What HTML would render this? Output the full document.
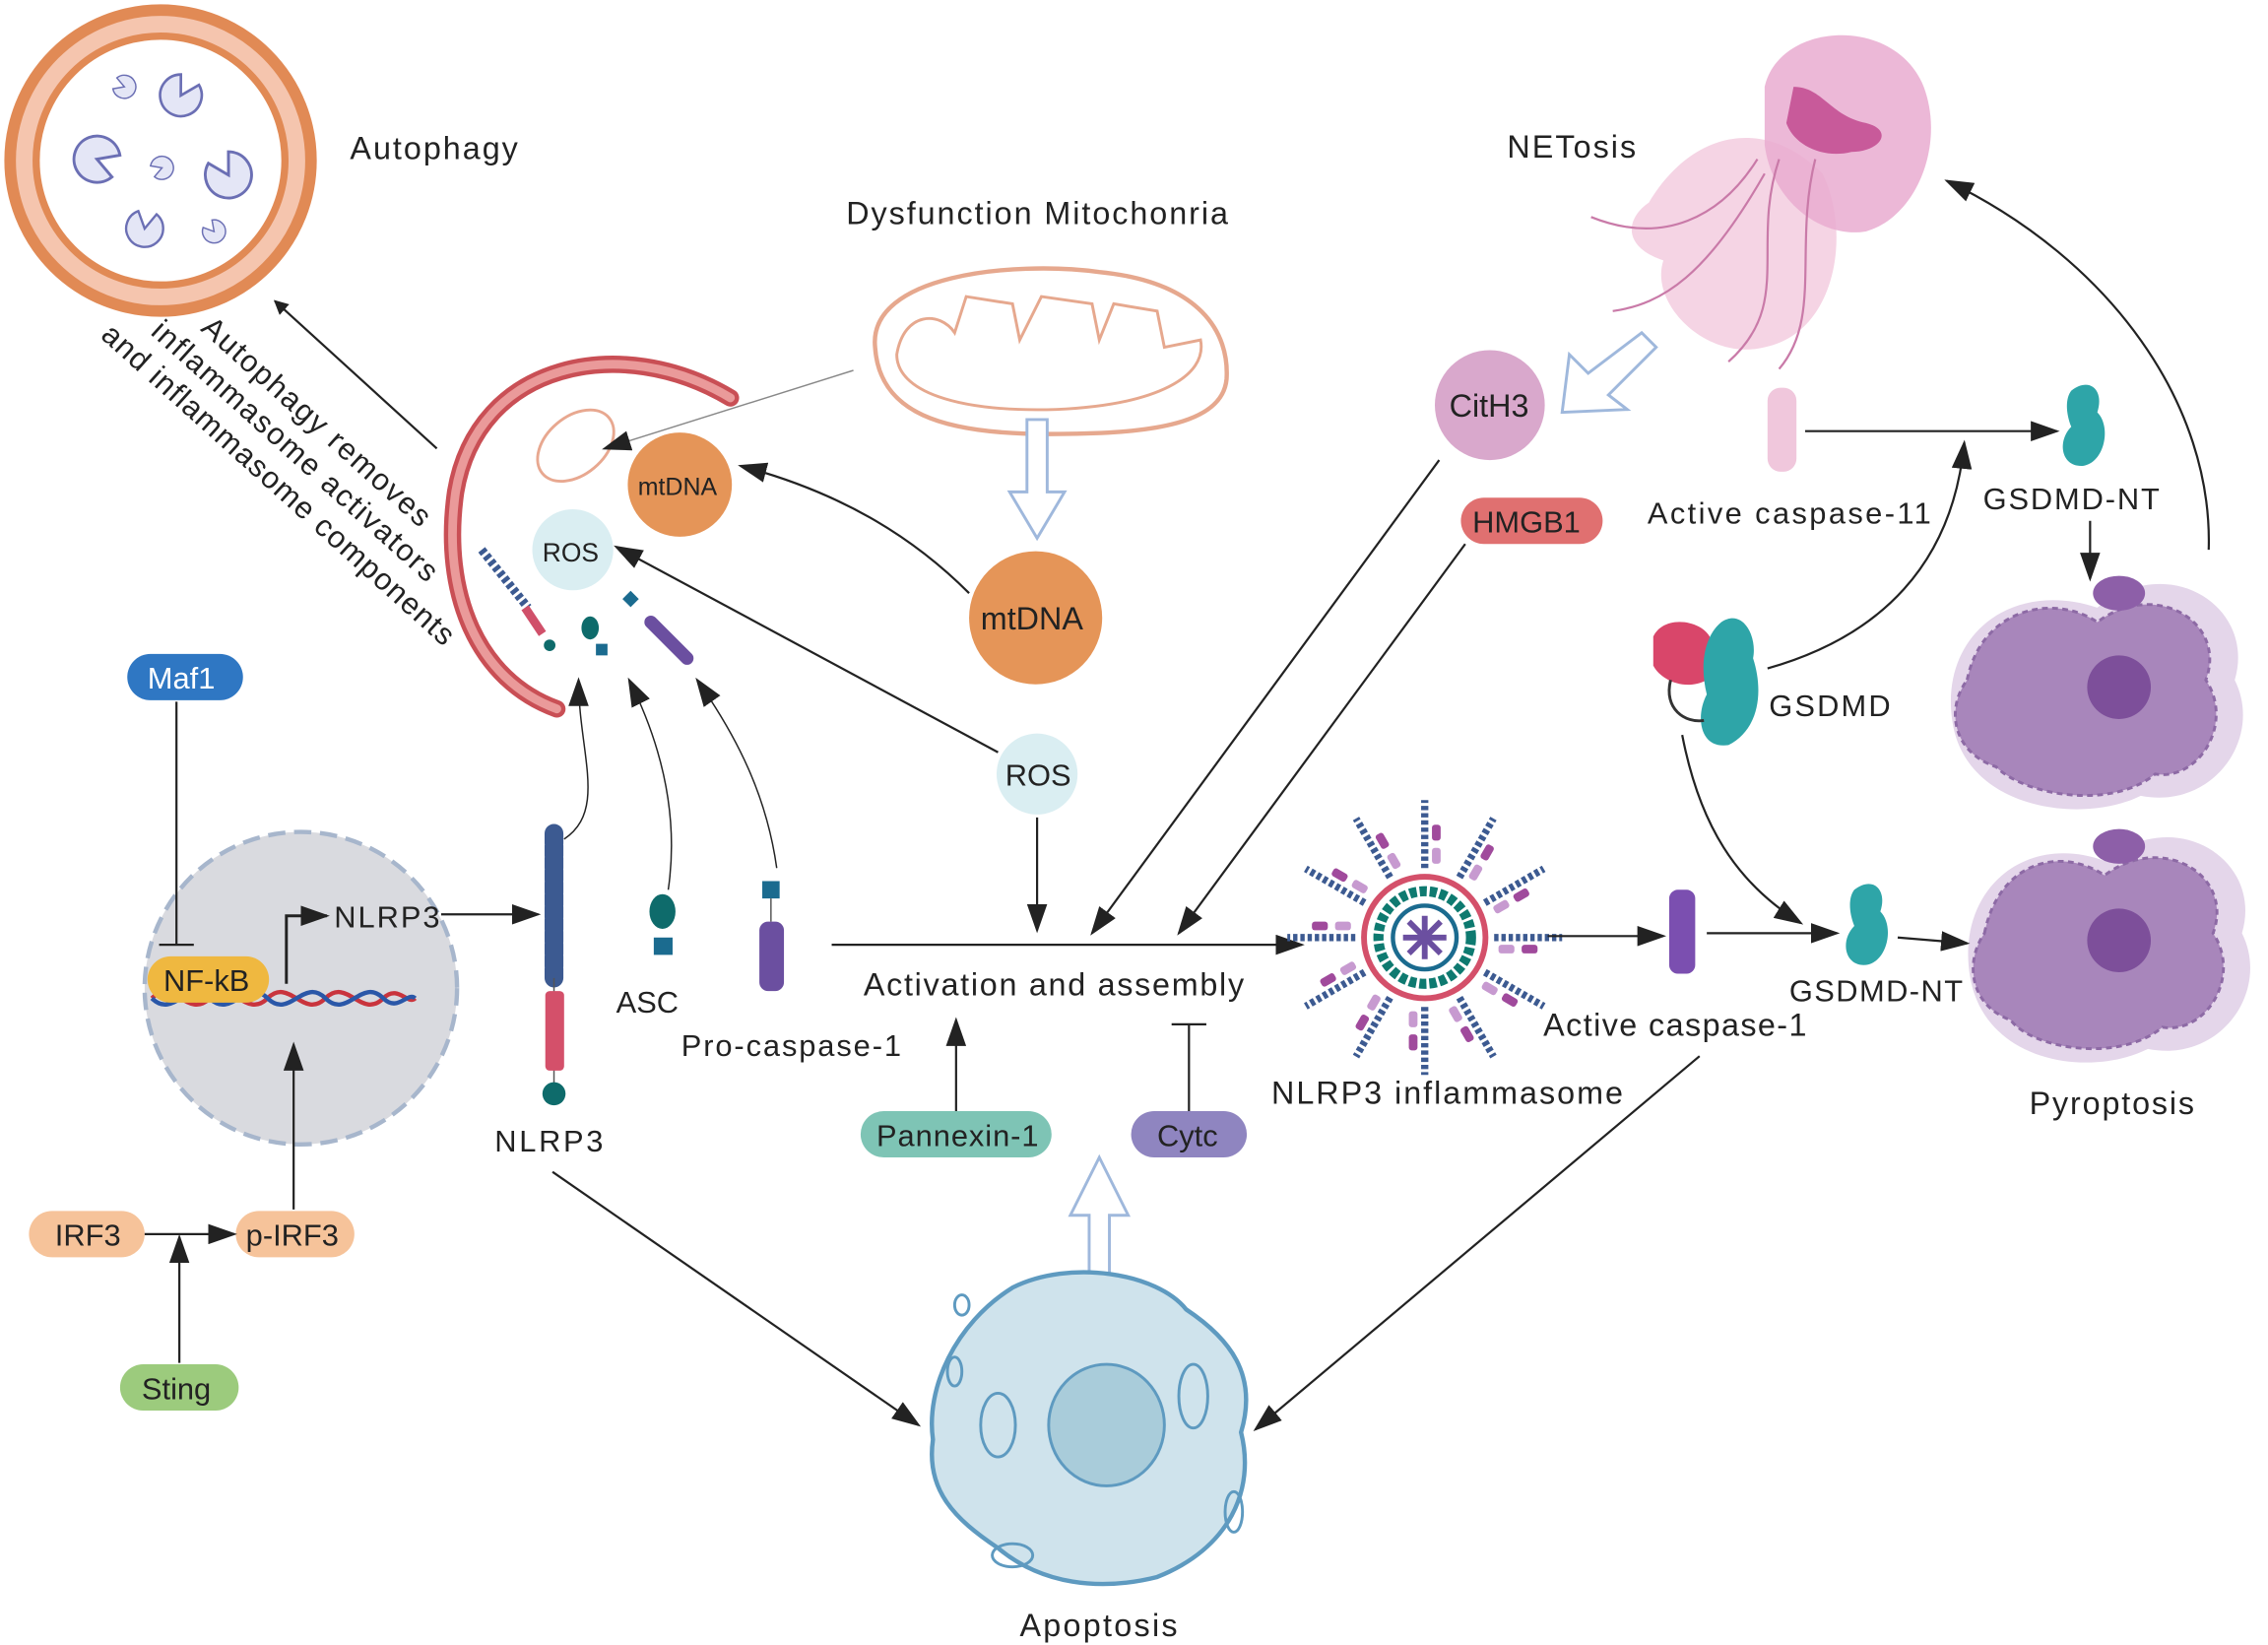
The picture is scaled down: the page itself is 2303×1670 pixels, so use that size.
<!DOCTYPE html>
<html><head><meta charset="utf-8"><style>
html,body{margin:0;padding:0;background:#fff;}
svg{display:block;}
text{font-family:"Liberation Sans",sans-serif;fill:#222;}
</style></head><body>
<svg width="2303" height="1670" viewBox="0 0 1568 1137" preserveAspectRatio="none" xmlns="http://www.w3.org/2000/svg">
<defs>
<marker id="ah" markerWidth="10" markerHeight="10" refX="9" refY="5" orient="auto" markerUnits="userSpaceOnUse"><path d="M0,0 L20,5 L0,10z" transform="scale(0.5,1)" fill="#222"/></marker>
<marker id="ab" markerWidth="20" markerHeight="14" refX="18" refY="7" orient="auto" markerUnits="userSpaceOnUse"><path d="M0,0 L20,7 L0,14z" fill="#222"/></marker>
<g id="spoke">
<line x1="0" y1="-48" x2="0" y2="-95" stroke="#3c5a91" stroke-width="5" stroke-dasharray="3,2"/>
<rect x="5" y="-62" width="6" height="11" rx="2" fill="#c79ad0"/>
<rect x="5" y="-78" width="6" height="11" rx="2" fill="#a04a9c"/>
</g>
<g id="pac"><path d="M0,0 L14,-8 A16,16 0 1,0 14,8 Z" fill="#e4e6f6" stroke="#6b6fb4" stroke-width="2"/></g>
</defs>

<!-- pyroptosis cells (drawn first so they sit behind) -->
<path d="M1350,500 C1340,440 1390,400 1450,420 C1500,380 1560,420 1545,470 C1565,510 1530,560 1480,550 C1440,570 1360,560 1350,500Z" fill="#e4d6ea"/>
<path d="M1362,675 C1352,615 1400,575 1455,595 C1505,555 1565,595 1550,645 C1570,685 1535,735 1485,725 C1445,745 1372,735 1362,675Z" fill="#e4d6ea"/>
<g fill="#a886bb" stroke="#8d6aa5" stroke-width="2" stroke-dasharray="4,3">
<path d="M1360,470 C1370,420 1420,410 1450,430 C1490,400 1540,430 1525,470 C1545,500 1520,540 1490,535 C1460,560 1400,550 1380,530 C1350,520 1345,490 1360,470Z"/>
<path d="M1372,645 C1382,595 1425,585 1455,605 C1495,575 1545,605 1530,645 C1550,675 1525,715 1495,710 C1465,735 1405,725 1390,705 C1362,695 1358,665 1372,645Z"/>
</g>
<circle cx="1465" cy="475" r="22" fill="#7d4f9a"/>
<circle cx="1465" cy="650" r="22" fill="#7d4f9a"/>
<ellipse cx="1465" cy="410" rx="18" ry="12" fill="#8d5fa8"/>
<ellipse cx="1465" cy="585" rx="18" ry="12" fill="#8d5fa8"/>
<text x="1403" y="770" font-size="22" textLength="114">Pyroptosis</text>

<!-- Autophagy -->
<circle cx="111" cy="111" r="104" fill="#f5c5ae" stroke="#e18a55" stroke-width="8"/>
<circle cx="111" cy="111" r="86" fill="#fff" stroke="#e18a55" stroke-width="5"/>
<use href="#pac" transform="translate(67,110) rotate(20)"/>
<use href="#pac" transform="translate(125,66) rotate(-60) scale(0.9)"/>
<use href="#pac" transform="translate(158,121) rotate(-120)"/>
<use href="#pac" transform="translate(100,158) rotate(-80) scale(0.8)"/>
<use href="#pac" transform="translate(86,60) rotate(200) scale(0.5)"/>
<use href="#pac" transform="translate(112,116) rotate(160) scale(0.5)"/>
<use href="#pac" transform="translate(148,160) rotate(230) scale(0.5)"/>
<text x="242" y="110" font-size="22" textLength="116">Autophagy</text>
<g transform="translate(138,228) rotate(42)" font-size="21">
<text x="0" y="0" textLength="205">Autophagy removes</text>
<text x="-24" y="25" textLength="258">inflammasome activators</text>
<text x="-48" y="50" textLength="320">and inflammasome components</text>
</g>
<line x1="302" y1="310" x2="190" y2="208" stroke="#222" stroke-width="1.5" marker-end="url(#ah)"/>

<!-- phagophore -->
<path d="M505,275 C430,230 330,250 315,340 C305,410 330,470 385,490" fill="none" stroke="#c94f55" stroke-width="12" stroke-linecap="round"/>
<path d="M505,275 C430,230 330,250 315,340 C305,410 330,470 385,490" fill="none" stroke="#ea9a9a" stroke-width="6" stroke-linecap="round"/>
<ellipse cx="398" cy="308" rx="30" ry="20" transform="rotate(-40 398 308)" fill="#fff" stroke="#e8a890" stroke-width="2"/>
<circle cx="470" cy="335" r="36" fill="#e59558"/>
<text x="441" y="342" font-size="17">mtDNA</text>
<circle cx="396" cy="380" r="28" fill="#daeef2"/>
<text x="375" y="388" font-size="18">ROS</text>
<line x1="333" y1="380" x2="365" y2="420" stroke="#3c5a91" stroke-width="6" stroke-dasharray="3,2"/>
<line x1="363" y1="420" x2="375" y2="438" stroke="#d0506a" stroke-width="6"/>
<circle cx="380" cy="446" r="4" fill="#0e6b6b"/>
<ellipse cx="408" cy="434" rx="6" ry="8" fill="#0e6b6b"/>
<rect x="412" y="445" width="8" height="8" fill="#1b6b8f"/>
<rect x="432" y="410" width="8" height="8" fill="#1b6b8f" transform="rotate(45 436 414)"/>
<line x1="450" y1="430" x2="475" y2="455" stroke="#6b4fa0" stroke-width="9" stroke-linecap="round"/>

<!-- big mitochondria -->
<path d="M605,240 C600,190 700,180 760,188 C830,195 850,230 848,262 C845,295 790,300 725,300 C650,300 608,285 605,240Z" fill="#fff" stroke="#e6a88e" stroke-width="3"/>
<path d="M620,245 C625,215 650,215 660,230 L668,205 L700,210 L705,235 L720,205 L755,210 L760,235 L770,210 L800,215 L805,240 L830,235 C835,260 800,280 730,283 C660,285 620,270 620,245Z" fill="none" stroke="#e6a88e" stroke-width="2"/>
<text x="585" y="155" font-size="22" textLength="264">Dysfunction Mitochonria</text>
<line x1="590" y1="256" x2="418" y2="310" stroke="#888" stroke-width="1" marker-end="url(#ab)"/>
<path d="M710,290 L724,290 L724,340 L736,340 L717,372 L698,340 L710,340Z" fill="#fff" stroke="#9fb8dc" stroke-width="2"/>
<circle cx="716" cy="427" r="46" fill="#e59558"/>
<text x="678" y="435" font-size="22">mtDNA</text>
<path d="M670,410 C630,370 580,340 512,322" fill="none" stroke="#222" stroke-width="1.5" marker-end="url(#ab)"/>
<circle cx="717" cy="535" r="28" fill="#daeef2"/>
<text x="695" y="543" font-size="21">ROS</text>
<line x1="690" y1="520" x2="426" y2="378" stroke="#222" stroke-width="1.5" marker-end="url(#ab)"/>
<line x1="717" y1="565" x2="717" y2="643" stroke="#222" stroke-width="1.5" marker-end="url(#ab)"/>

<!-- activation -->
<text x="597" y="688" font-size="22" textLength="263">Activation and assembly</text>
<line x1="575" y1="653" x2="900" y2="653" stroke="#222" stroke-width="1.5" marker-end="url(#ab)"/>
<line x1="661" y1="768" x2="661" y2="705" stroke="#222" stroke-width="1.5" marker-end="url(#ab)"/>
<rect x="595" y="768" width="132" height="32" rx="16" fill="#7ec4b5"/>
<text x="606" y="792" font-size="21" textLength="112">Pannexin-1</text>
<line x1="822" y1="768" x2="822" y2="708" stroke="#222" stroke-width="1.5"/>
<line x1="810" y1="708" x2="834" y2="708" stroke="#222" stroke-width="1.5"/>
<rect x="782" y="768" width="80" height="32" rx="16" fill="#8f85c0"/>
<text x="800" y="792" font-size="21">Cytc</text>
<path d="M753,880 L753,840 L740,840 L760,800 L780,840 L767,840 L767,880Z" fill="#fff" stroke="#9fb8dc" stroke-width="2"/>

<!-- apoptosis -->
<path d="M700,890 C740,870 800,880 820,905 C850,925 870,950 858,990 C868,1030 850,1070 800,1090 C760,1100 720,1095 690,1070 C660,1050 640,1030 645,995 C640,960 660,915 700,890Z" fill="#cfe3ec" stroke="#5e9ac0" stroke-width="3"/>
<ellipse cx="765" cy="985" rx="40" ry="42" fill="#a9ccda" stroke="#5e9ac0" stroke-width="2"/>
<ellipse cx="690" cy="985" rx="12" ry="22" fill="none" stroke="#5e9ac0" stroke-width="2"/>
<ellipse cx="825" cy="965" rx="10" ry="22" fill="none" stroke="#5e9ac0" stroke-width="2"/>
<ellipse cx="660" cy="948" rx="5" ry="10" fill="none" stroke="#5e9ac0" stroke-width="2"/>
<ellipse cx="853" cy="1045" rx="6" ry="14" fill="none" stroke="#5e9ac0" stroke-width="2"/>
<ellipse cx="700" cy="1075" rx="14" ry="8" fill="none" stroke="#5e9ac0" stroke-width="2"/>
<ellipse cx="665" cy="902" rx="5" ry="7" fill="none" stroke="#5e9ac0" stroke-width="2"/>
<text x="705" y="1131" font-size="22" textLength="109">Apoptosis</text>
<line x1="382" y1="810" x2="635" y2="985" stroke="#222" stroke-width="1.5" marker-end="url(#ab)"/>
<line x1="1175" y1="730" x2="868" y2="988" stroke="#222" stroke-width="1.5" marker-end="url(#ab)"/>

<!-- Maf1 & nucleus -->
<rect x="88" y="452" width="80" height="32" rx="16" fill="#2f77c3"/>
<text x="102" y="476" font-size="21" style="fill:#fff">Maf1</text>
<circle cx="208" cy="683" r="108" fill="#d9dadf" stroke="#a7b6cc" stroke-width="3" stroke-dasharray="12,6"/>
<line x1="122" y1="485" x2="122" y2="653" stroke="#222" stroke-width="1.5"/>
<line x1="110" y1="653" x2="134" y2="653" stroke="#222" stroke-width="1.5"/>
<path d="M105,690 C120,675 130,705 145,690 C160,675 170,705 185,690 C200,675 210,705 225,690 C240,675 250,705 265,690 C275,680 282,695 287,690" fill="none" stroke="#c9343d" stroke-width="3"/>
<path d="M105,690 C120,705 130,675 145,690 C160,705 170,675 185,690 C200,705 210,675 225,690 C240,705 250,675 265,690 C275,700 282,685 287,690" fill="none" stroke="#2a57a8" stroke-width="3"/>
<rect x="102" y="661" width="84" height="32" rx="16" fill="#efb840"/>
<text x="113" y="685" font-size="21">NF-kB</text>
<polyline points="198,680 198,633 226,633" fill="none" stroke="#222" stroke-width="2" marker-end="url(#ab)"/>
<text x="231" y="641" font-size="21" textLength="73">NLRP3</text>
<line x1="305" y1="632" x2="372" y2="632" stroke="#222" stroke-width="1.5" marker-end="url(#ab)"/>
<line x1="203" y1="836" x2="203" y2="722" stroke="#222" stroke-width="1.5" marker-end="url(#ab)"/>
<rect x="20" y="837" width="80" height="32" rx="16" fill="#f6c39a"/>
<text x="38" y="861" font-size="21">IRF3</text>
<rect x="163" y="837" width="82" height="32" rx="16" fill="#f6c39a"/>
<text x="170" y="861" font-size="21">p-IRF3</text>
<line x1="100" y1="853" x2="162" y2="853" stroke="#222" stroke-width="1.5" marker-end="url(#ab)"/>
<line x1="124" y1="942" x2="124" y2="855" stroke="#222" stroke-width="1.5" marker-end="url(#ab)"/>
<rect x="83" y="943" width="82" height="32" rx="16" fill="#9ccb7d"/>
<text x="98" y="967" font-size="21">Sting</text>

<!-- NLRP3 chain -->
<line x1="383" y1="576" x2="383" y2="676" stroke="#3c5a91" stroke-width="13" stroke-dasharray="7,1.5" stroke-linecap="round"/>
<line x1="383" y1="676" x2="383" y2="750" stroke="#555" stroke-width="1"/>
<rect x="377" y="685" width="13" height="55" rx="3" fill="#d4506a"/>
<circle cx="383" cy="756" r="8" fill="#0e6b6b"/>
<text x="342" y="796" font-size="21" textLength="75">NLRP3</text>
<path d="M390,580 C420,560 400,520 400,470" fill="none" stroke="#222" stroke-width="1" marker-end="url(#ab)"/>
<ellipse cx="458" cy="630" rx="9" ry="12" fill="#0e6b6b"/>
<rect x="452" y="648" width="13" height="12" fill="#1b6b8f"/>
<text x="426" y="700" font-size="21">ASC</text>
<path d="M462,615 C470,560 455,510 435,470" fill="none" stroke="#222" stroke-width="1" marker-end="url(#ab)"/>
<rect x="527" y="609" width="12" height="12" fill="#1b6b8f"/>
<rect x="525" y="637" width="17" height="48" rx="6" fill="#6b4fa0"/>
<line x1="533" y1="621" x2="533" y2="637" stroke="#555"/>
<text x="471" y="730" font-size="21" textLength="152">Pro-caspase-1</text>
<path d="M537,600 C530,550 510,510 482,470" fill="none" stroke="#222" stroke-width="1" marker-end="url(#ab)"/>

<!-- inflammasome -->
<g transform="translate(985,648)">
<use href="#spoke" transform="rotate(0)"/><use href="#spoke" transform="rotate(30)"/><use href="#spoke" transform="rotate(60)"/><use href="#spoke" transform="rotate(90)"/><use href="#spoke" transform="rotate(120)"/><use href="#spoke" transform="rotate(150)"/><use href="#spoke" transform="rotate(180)"/><use href="#spoke" transform="rotate(210)"/><use href="#spoke" transform="rotate(240)"/><use href="#spoke" transform="rotate(270)"/><use href="#spoke" transform="rotate(300)"/><use href="#spoke" transform="rotate(330)"/>
<circle r="42" fill="none" stroke="#d4506a" stroke-width="4"/>
<circle r="32" fill="none" stroke="#0e7a70" stroke-width="7" stroke-dasharray="5,2"/>
<circle r="22" fill="none" stroke="#1b6b8f" stroke-width="3"/>
<g stroke="#6b4fa0" stroke-width="4"><line x1="-15" y1="0" x2="15" y2="0"/><line x1="0" y1="-15" x2="0" y2="15"/><line x1="-11" y1="-11" x2="11" y2="11"/><line x1="-11" y1="11" x2="11" y2="-11"/></g>
</g>
<text x="879" y="763" font-size="22" textLength="243">NLRP3 inflammasome</text>
<line x1="1070" y1="647" x2="1150" y2="647" stroke="#222" stroke-width="1.5" marker-end="url(#ab)"/>
<rect x="1154" y="615" width="18" height="58" rx="6" fill="#7b4fb0"/>
<text x="1067" y="716" font-size="22" textLength="182">Active caspase-1</text>
<line x1="1180" y1="645" x2="1270" y2="645" stroke="#222" stroke-width="1.5" marker-end="url(#ab)"/>
<path d="M1282,615 C1295,605 1305,615 1300,630 C1310,640 1305,665 1290,667 C1275,668 1272,650 1282,640 C1278,630 1278,620 1282,615Z" fill="#2ea5a8"/>
<text x="1237" y="692" font-size="21" textLength="120">GSDMD-NT</text>
<line x1="1312" y1="648" x2="1360" y2="652" stroke="#222" stroke-width="1.5" marker-end="url(#ab)"/>

<!-- NETosis -->
<g fill="#f2c6dc" opacity="0.75">
<path d="M1140,140 C1170,90 1220,80 1260,120 C1280,160 1270,230 1220,240 C1180,250 1140,210 1150,180 C1120,170 1125,150 1140,140Z"/>
<path d="M1170,170 C1200,140 1250,150 1245,200 C1240,240 1200,250 1185,220Z"/>
</g>
<path d="M1220,60 C1230,15 1310,10 1330,60 C1345,100 1325,150 1290,160 C1260,165 1225,140 1220,100Z" fill="#e9acd0" opacity="0.85"/>
<g stroke="#c97aa8" stroke-width="1.5" fill="none">
<path d="M1230,110 C1210,170 1240,210 1195,250"/><path d="M1255,110 C1240,170 1260,220 1230,255"/><path d="M1215,110 C1190,150 1150,170 1100,150"/><path d="M1220,120 C1180,190 1150,210 1115,215"/>
</g>
<path d="M1240,60 C1260,60 1265,80 1290,85 C1310,90 1300,105 1280,105 C1260,110 1240,100 1235,85Z" fill="#c85a9a"/>
<text x="1042" y="109" font-size="22" textLength="89">NETosis</text>
<circle cx="1030" cy="280" r="38" fill="#d9a8cc"/>
<text x="1002" y="288" font-size="22">CitH3</text>
<path d="M1135,230 L1145,240 L1112,273 L1125,283 L1080,285 L1085,245 L1098,258Z" fill="#fff" stroke="#9fb8dc" stroke-width="2"/>
<rect x="1010" y="344" width="98" height="32" rx="16" fill="#e07070"/>
<text x="1018" y="368" font-size="21">HMGB1</text>
<line x1="995" y1="318" x2="755" y2="645" stroke="#222" stroke-width="1.5" marker-end="url(#ab)"/>
<line x1="1013" y1="376" x2="815" y2="645" stroke="#222" stroke-width="1.5" marker-end="url(#ab)"/>
<rect x="1222" y="268" width="20" height="58" rx="9" fill="#f0c7dc"/>
<text x="1139" y="362" font-size="21" textLength="196">Active caspase-11</text>
<line x1="1248" y1="298" x2="1422" y2="298" stroke="#222" stroke-width="1.5" marker-end="url(#ab)"/>
<path d="M1432,270 C1445,260 1455,270 1450,285 C1460,295 1455,320 1440,322 C1425,323 1422,305 1432,295 C1428,285 1428,275 1432,270Z" fill="#2ea5a8"/>
<text x="1371" y="352" font-size="21" textLength="122">GSDMD-NT</text>
<line x1="1445" y1="360" x2="1445" y2="400" stroke="#222" stroke-width="1.5" marker-end="url(#ab)"/>
<path d="M1143,440 C1150,425 1175,428 1182,440 L1180,470 C1165,478 1148,470 1143,460Z" fill="#d9466a"/>
<path d="M1190,430 C1205,420 1215,440 1212,455 C1220,480 1215,505 1195,515 C1175,518 1172,495 1180,480 C1175,460 1178,440 1190,430Z" fill="#2ea5a8"/>
<path d="M1155,470 C1150,490 1165,500 1178,498" fill="none" stroke="#333" stroke-width="2"/>
<text x="1223" y="495" font-size="21" textLength="84">GSDMD</text>
<path d="M1222,462 C1300,440 1350,390 1358,306" fill="none" stroke="#222" stroke-width="1.5" marker-end="url(#ab)"/>
<path d="M1163,508 C1175,570 1200,610 1245,638" fill="none" stroke="#222" stroke-width="1.5" marker-end="url(#ab)"/>
<path d="M1527,380 C1530,280 1460,180 1346,125" fill="none" stroke="#222" stroke-width="1.5" marker-end="url(#ab)"/>
</svg>
</body></html>
